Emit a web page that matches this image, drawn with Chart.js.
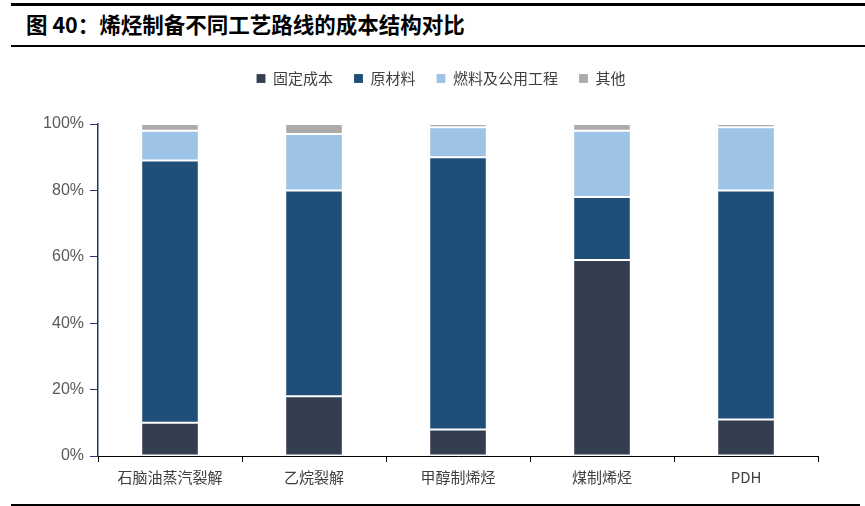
<!DOCTYPE html>
<html lang="zh">
<head>
    <meta charset="UTF-8">
    <title>烯烃制备不同工艺路线的成本结构对比</title>
    <script src="https://cdn.jsdelivr.net/npm/chart.js"></script>
    <style>
        body {
            margin: 0;
            width: 865px;
            height: 506px;
            background: #fff;
            position: relative;
            overflow: hidden;
            font-family: "Noto Sans CJK SC", sans-serif;
        }
        .rule {
            position: absolute;
            left: 11px;
            right: 0;
            background: #000;
        }
        #title {
            position: absolute;
            left: 26px;
            top: 9px;
            font-size: 21.5px;
            font-weight: bold;
            color: #000;
            line-height: 30px;
        }
        #wrap {
            position: absolute;
            left: 0;
            top: 50px;
            width: 865px;
            height: 450px;
        }
    </style>
</head>
<body>
    <div class="rule" style="top:3px;height:3px;"></div>
    <div id="title">图 40：烯烃制备不同工艺路线的成本结构对比</div>
    <div class="rule" style="top:45px;height:2px;"></div>
    <div class="rule" style="top:504px;height:2px;right:20px;"></div>
    <div class="rule" style="top:504px;height:2px;left:845px;right:5px;"></div>
    <div id="wrap"><canvas id="costChart"></canvas></div>
    <script>
        // categories and cost shares (%)
        const routes = ['石脑油蒸汽裂解', '乙烷裂解', '甲醇制烯烃', '煤制烯烃', 'PDH'];
        const fixedCost = [10, 18, 8, 59, 11];
        const rawMaterial = [79, 62, 82, 19, 69];
        const fuelUtility = [9, 17, 9, 20, 19];
        const otherCost = [2, 3, 1, 2, 1];
        const yTicks = [0, 20, 40, 60, 80, 100];

        const seriesNames = ['固定成本', '原材料', '燃料及公用工程', '其他'];
        const seriesColors = ['#333F50', '#1F4E79', '#9DC3E6', '#AEAAAA'];
        const seriesData = [fixedCost, rawMaterial, fuelUtility, otherCost];

        const datasets = seriesNames.map((name, i) => ({
            label: name,
            data: seriesData[i],
            backgroundColor: seriesColors[i],
            borderColor: 'rgba(255,255,255,0.14)',
            borderWidth: 1,
            borderSkipped: false,
            barPercentage: 0.4,
            categoryPercentage: 1.0
        }));

        // extra gap under the legend, and nudge it right to sit over the plot
        const legendTweak = {
            id: 'legendTweak',
            beforeInit(chart) {
                const fit = chart.legend.fit;
                chart.legend.fit = function () {
                    fit.bind(chart.legend)();
                    this.height += 28;
                };
            },
            afterLayout(chart) {
                chart.legend.left += 30;
                chart.legend.right += 30;
            }
        };

        new Chart(document.getElementById('costChart'), {
            type: 'bar',
            data: { labels: routes, datasets: datasets },
            options: {
                responsive: true,
                maintainAspectRatio: false,
                animation: false,
                layout: { padding: { left: 4, right: 47, top: 0, bottom: 8 } },
                plugins: {
                    tooltip: { enabled: false },
                    legend: {
                        position: 'top',
                        labels: {
                            boxWidth: 9,
                            boxHeight: 9,
                            padding: 21,
                            color: '#404040',
                            font: { family: '"Noto Sans CJK SC", sans-serif', size: 15 }
                        }
                    }
                },
                scales: {
                    x: {
                        stacked: true,
                        border: { color: '#000', width: 1 },
                        grid: {
                            drawOnChartArea: false,
                            color: '#000',
                            tickLength: 6,
                            offset: true
                        },
                        ticks: {
                            color: '#404040',
                            padding: 6,
                            font: { family: '"Noto Sans CJK SC", sans-serif', size: 15 }
                        }
                    },
                    y: {
                        stacked: true,
                        min: 0,
                        max: 100,
                        afterFit: (scale) => { scale.width = 94; },
                        afterBuildTicks: (scale) => {
                            scale.ticks = yTicks.map(v => ({ value: v }));
                        },
                        border: { color: '#1F3864', width: 1.5 },
                        grid: {
                            drawOnChartArea: false,
                            color: '#1F3864',
                            tickLength: 8
                        },
                        ticks: {
                            color: '#595959',
                            padding: 6,
                            font: { family: 'Arial, "Liberation Sans", sans-serif', size: 16 },
                            callback: (v) => v + '%'
                        }
                    }
                }
            },
            plugins: [legendTweak]
        });
    </script>
</body>
</html>
